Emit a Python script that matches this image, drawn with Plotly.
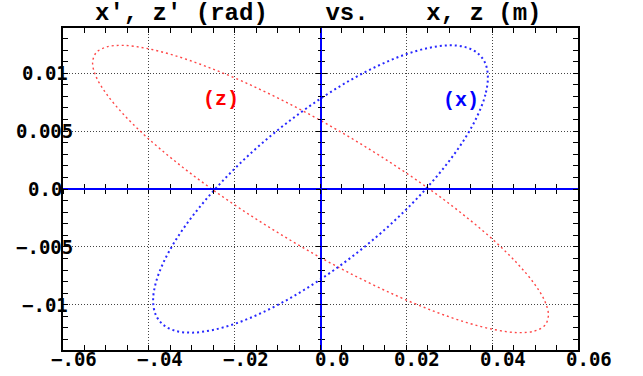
import plotly.graph_objects as go

# phase space points (x or z in m, x' or z' in rad)
red_x = [0.05310, 0.05229, 0.04990, 0.04599, 0.04068, 0.03413, 0.02655, 0.01816, 0.00922, 0.0,
         -0.00922, -0.01816, -0.02655, -0.03413, -0.04068, -0.04599, -0.04990, -0.05229, -0.05310,
         -0.05229, -0.04990, -0.04599, -0.04068, -0.03413, -0.02655, -0.01816, -0.00922, 0.0,
         0.00922, 0.01816, 0.02655, 0.03413, 0.04068, 0.04599, 0.04990, 0.05229]
red_y = [-0.01090, -0.01176, -0.01226, -0.01240, -0.01215, -0.01154, -0.01057, -0.00929, -0.00772, -0.00592,
         -0.00393, -0.00183, 0.00032, 0.00247, 0.00454, 0.00648, 0.00822, 0.00970, 0.01090,
         0.01176, 0.01226, 0.01240, 0.01215, 0.01154, 0.01057, 0.00929, 0.00772, 0.00592,
         0.00393, 0.00183, -0.00032, -0.00247, -0.00454, -0.00648, -0.00822, -0.00970]

blue_x = [0.03900, 0.03841, 0.03665, 0.03378, 0.02988, 0.02507, 0.01950, 0.01334, 0.00677, 0.0,
          -0.00677, -0.01334, -0.01950, -0.02507, -0.02988, -0.03378, -0.03665, -0.03841, -0.03900,
          -0.03841, -0.03665, -0.03378, -0.02988, -0.02507, -0.01950, -0.01334, -0.00677, 0.0,
          0.00677, 0.01334, 0.01950, 0.02507, 0.02988, 0.03378, 0.03665, 0.03841]
blue_y = [0.00964, 0.00814, 0.00639, 0.00444, 0.00237, 0.00022, -0.00194, -0.00404, -0.00601, -0.00780,
          -0.00936, -0.01063, -0.01158, -0.01217, -0.01240, -0.01225, -0.01172, -0.01085, -0.00964,
          -0.00814, -0.00639, -0.00444, -0.00237, -0.00022, 0.00194, 0.00404, 0.00601, 0.00780,
          0.00936, 0.01063, 0.01158, 0.01217, 0.01240, 0.01225, 0.01172, 0.01085]

x_ticks = [-0.06, -0.04, -0.02, 0.0, 0.02, 0.04, 0.06]
x_tick_text = ["−.06", "−.04", "−.02", "0.0", "0.02", "0.04", "0.06"]
y_ticks = [0.01, 0.005, 0.0, -0.005, -0.01]
y_tick_text = ["0.01", "0.005", "0.0", "−.005", "−.01"]

xr = [-0.06, 0.06]
yr = [-0.0139, 0.0139]

fig = go.Figure()

fig.add_trace(go.Scatter(x=red_x + red_x[:1], y=red_y + red_y[:1], mode="lines",
                         line=dict(color="rgb(255,70,70)", width=1.4, dash="2px,3px", shape="spline"),
                         showlegend=False, hoverinfo="skip"))
fig.add_trace(go.Scatter(x=blue_x + blue_x[:1], y=blue_y + blue_y[:1], mode="lines",
                         line=dict(color="rgb(40,40,255)", width=2, dash="2px,3px", shape="spline"),
                         showlegend=False, hoverinfo="skip"))

# empty traces so the axes through the origin get drawn
for xa, ya in [("x2", "y"), ("x3", "y"), ("x", "y2"), ("x", "y3")]:
    fig.add_trace(go.Scatter(x=[None], y=[None], xaxis=xa, yaxis=ya, showlegend=False, hoverinfo="skip"))

frame = dict(showline=True, linecolor="black", linewidth=1.5, mirror="allticks",
             ticks="inside", ticklen=5, tickcolor="black", tickwidth=1,
             showticklabels=False, zeroline=False,
             showgrid=True, gridcolor="#444", gridwidth=1, griddash="1px,2px")

fig.update_layout(
    width=643, height=376,
    margin=dict(l=63, r=65, t=28, b=26, autoexpand=False),
    paper_bgcolor="white", plot_bgcolor="white",
    xaxis=dict(range=xr, tickvals=x_ticks,
               minor=dict(ticks="inside", ticklen=3, dtick=0.005, tick0=0, tickcolor="black", showgrid=False),
               **frame),
    yaxis=dict(range=yr, tickvals=y_ticks,
               minor=dict(ticks="inside", ticklen=3, dtick=0.001, tick0=0, tickcolor="black", showgrid=False),
               **frame),
    xaxis2=dict(overlaying="x", range=xr, anchor="free", position=0.5, showline=True,
                linecolor="blue", linewidth=2, ticks="inside", ticklen=4, tickcolor="black",
                dtick=0.005, tick0=0, showticklabels=False, showgrid=False, zeroline=False),
    xaxis3=dict(overlaying="x", range=xr, anchor="free", position=0.5, showline=False,
                ticks="outside", ticklen=4, tickcolor="black",
                dtick=0.005, tick0=0, showticklabels=False, showgrid=False, zeroline=False),
    yaxis2=dict(overlaying="y", range=yr, anchor="free", position=0.5, showline=True,
                linecolor="blue", linewidth=2, ticks="inside", ticklen=5, tickcolor="black",
                dtick=0.005, tick0=0, showticklabels=False, showgrid=False, zeroline=False,
                minor=dict(ticks="inside", ticklen=3, dtick=0.001, tick0=0, tickcolor="black")),
    yaxis3=dict(overlaying="y", range=yr, anchor="free", position=0.5, showline=False,
                ticks="outside", ticklen=5, tickcolor="black",
                dtick=0.005, tick0=0, showticklabels=False, showgrid=False, zeroline=False,
                minor=dict(ticks="outside", ticklen=3, dtick=0.001, tick0=0, tickcolor="black")),
)

tick_font = dict(family="DejaVu Sans Mono", size=19, color="black")
for v, t in zip(x_ticks, x_tick_text):
    fig.add_annotation(x=v, y=-0.028, xref="x", yref="paper", xshift=11, text="<b>" + t + "</b>",
                       showarrow=False, xanchor="center", yanchor="middle", font=tick_font)
for v, t in zip(y_ticks, y_tick_text):
    fig.add_annotation(x=-0.035, y=v, xref="paper", yref="y", text="<b>" + t + "</b>",
                       showarrow=False, xanchor="center", yanchor="middle", font=tick_font)

fig.add_annotation(x=0.495, y=1.046, xref="paper", yref="paper",
                   text="<b>x′, z′ (rad)    vs.    x, z (m)</b>",
                   showarrow=False, xanchor="center", yanchor="middle", borderpad=0,
                   font=dict(family="Liberation Mono", size=24, color="black"))

fig.add_annotation(x=-0.0233, y=0.0077, text="<b>(z)</b>", showarrow=False,
                   font=dict(family="Liberation Mono", size=20, color="red"))
fig.add_annotation(x=0.0328, y=0.0076, text="<b>(x)</b>", showarrow=False,
                   font=dict(family="Liberation Mono", size=20, color="blue"))

# drop the page's default 8px body margin so the figure fills the window
fig.write_html("out.html", config={"displayModeBar": False},
               post_script="document.body.style.margin = '0';")
